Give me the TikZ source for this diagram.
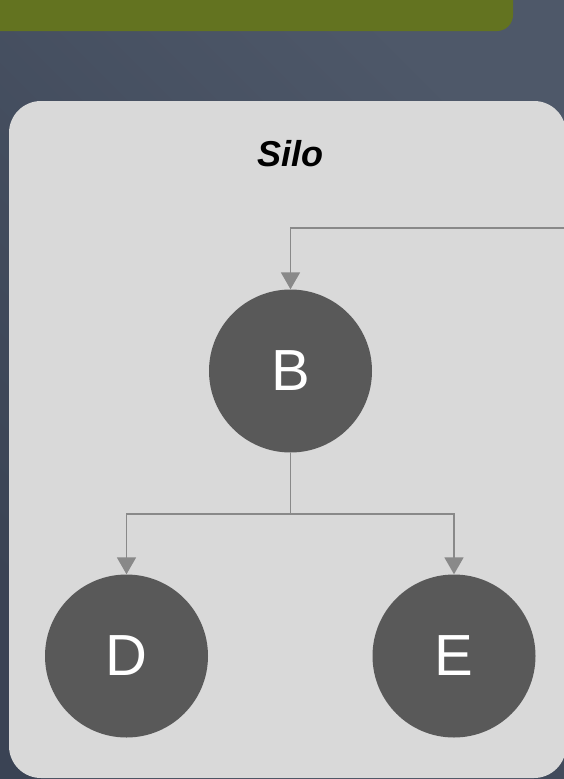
\documentclass[tikz,border=0pt]{standalone}
\usepackage{fontspec}
\setmainfont{Liberation Sans}
\usetikzlibrary{arrows.meta}
\definecolor{bgdark}{HTML}{3A4354}
\definecolor{bglight}{HTML}{4E5869}
\definecolor{olive}{HTML}{637320}
\definecolor{silofill}{HTML}{D9D9D9}
\definecolor{nodefill}{HTML}{595959}
\definecolor{linegray}{HTML}{898989}
\tikzset{
  circnode/.style={circle, fill=nodefill, minimum size=163pt, inner sep=0pt,
    text=white, font=\fontsize{58}{58}\selectfont},
  conn/.style={draw=linegray, line width=1.8pt,
    -{Triangle[width=19pt,length=17pt]}},
  connplain/.style={draw=linegray, line width=1.8pt},
}
\begin{document}
\begin{tikzpicture}[x=1pt,y=-1pt]
\useasboundingbox (0,0) rectangle (564,779);
\shade[bottom color=bgdark, top color=bglight, shading angle=-45] (0,0) rectangle (564,779);
% olive box at top
\fill[olive, rounded corners=16pt] (-40,-40) rectangle (513,31);
% silo container
\fill[silofill, rounded corners=32pt] (9,101) rectangle (566,778);
\node[font=\fontsize{36}{36}\selectfont\bfseries\itshape] (title) at (290,154) {Silo};
% nodes
\node[circnode] (B) at (290.5,371) {B};
\node[circnode] (D) at (126.5,656) {D};
\node[circnode] (E) at (454,656) {E};
% connectors
\coordinate (in) at (570,228);
\coordinate (br) at (290.5,514);
\draw[conn] (in) -| (B.north);
\draw[connplain] (B.south) -- (br);
\draw[conn] (br) -| (D.north);
\draw[conn] (br) -| (E.north);
\end{tikzpicture}
\end{document}
